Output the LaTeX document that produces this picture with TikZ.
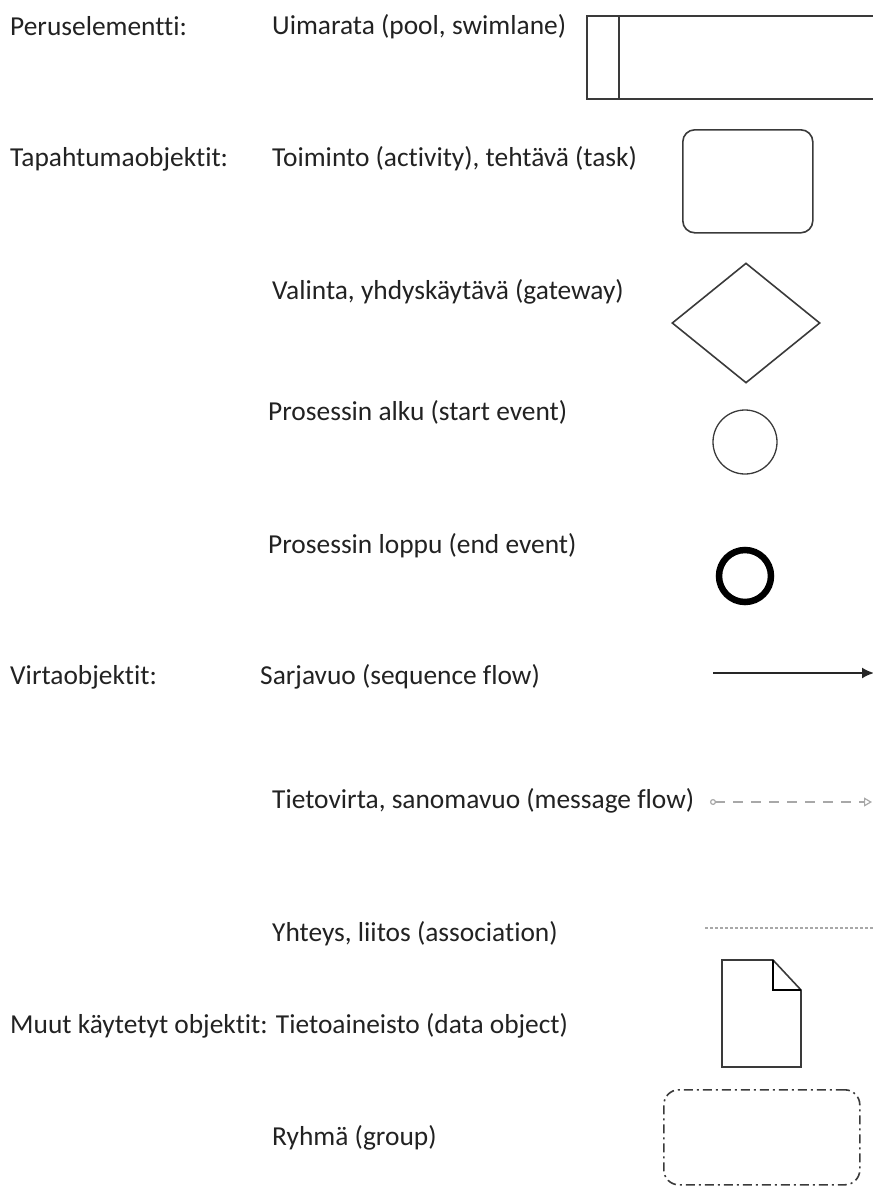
\documentclass[tikz,border=0pt]{standalone}
\usepackage{fontspec}
\setmainfont[Ligatures=NoCommon]{Carlito}
\usetikzlibrary{shapes.geometric,arrows.meta}
\definecolor{ink}{HTML}{222222}
\definecolor{lineink}{HTML}{3A3A3A}
\definecolor{msgink}{HTML}{A8A8A8}
\tikzset{
  lbl/.style={anchor=base west, inner sep=0pt, text=ink, font=\fontsize{27.4}{31}\selectfont},
  shp/.style={draw=lineink, line width=1.6pt},
}
\begin{document}
\begin{tikzpicture}[x=1pt,y=-1pt]
\useasboundingbox (0,0) rectangle (873,1187);

% category headings
\node[lbl] (hbase) at (10,35) {Peruselementti:};
\node[lbl] (hevent) at (10,166) {Tapahtumaobjektit:};
\node[lbl] (hflow) at (10,684) {Virtaobjektit:};
\node[lbl] (hother) at (10,1033) {Muut käytetyt objektit: Tietoaineisto (data object)};

% element names
\node[lbl] (tpool) at (272,34) {Uimarata (pool, swimlane)};
\node[lbl] (ttask) at (272,166) {Toiminto (activity), tehtävä (task)};
\node[lbl] (tgate) at (272,299) {Valinta, yhdyskäytävä (gateway)};
\node[lbl] (tstart) at (268,420) {Prosessin alku (start event)};
\node[lbl] (tend) at (268,553) {Prosessin loppu (end event)};
\node[lbl] (tseq) at (260,684) {Sarjavuo (sequence flow)};
\node[lbl] (tmsg) at (272,808) {Tietovirta, sanomavuo (message flow)};
\node[lbl] (tassoc) at (272,941) {Yhteys, liitos (association)};
\node[lbl] (tgroup) at (272,1145) {Ryhmä (group)};

% pool with its lane header
\node[shp, draw, rectangle, anchor=north west, minimum width=292, minimum height=83, inner sep=0pt] (pool) at (586,15) {};
\draw[shp] ([xshift=33]pool.north west) -- ([xshift=33]pool.south west);

% task
\node[shp, draw, rectangle, rounded corners=12pt, anchor=north west, minimum width=130, minimum height=103, inner sep=0pt] (task) at (682,129) {};

% gateway
\node[shp, draw, diamond, aspect=1.23, minimum width=148, minimum height=120, inner sep=0pt] (gate) at (746,323) {};

% start and end events
\node[draw=lineink, line width=1.3pt, circle, minimum size=64, inner sep=0pt] (start) at (745,442) {};
\node[draw=black, line width=6.5pt, circle, minimum size=52, inner sep=0pt] (endev) at (745,576) {};

% sequence flow
\coordinate (seqa) at (713,673);
\coordinate (seqb) at (874,673);
\draw[draw=black!85, line width=1.8pt, -{Latex[length=12pt,width=11pt]}] (seqa) -- (seqb);

% message flow
\coordinate (msga) at (710,802);
\coordinate (msgb) at (872,802);
\draw[draw=msgink, line width=1.2pt, dash pattern=on 10pt off 8pt,
  {Circle[open,length=6pt,width=6pt,sep=0pt]}-{Triangle[open,length=8pt,width=9pt]}] (msga) -- (msgb);

% association
\coordinate (asa) at (705,928);
\coordinate (asb) at (873,928);
\draw[draw=msgink, line width=1.2pt, dash pattern=on 2.5pt off 2.5pt] (asa) -- (asb);

% data object
\coordinate (doc) at (722,960);
\draw[shp, line join=miter] (doc) -- ++(51,0) -- ++(28,30) -- ++(0,77) -- ++(-79,0) -- cycle;
\draw[draw=black, line width=1.8pt, line join=miter] (773,960) -- (773,990) -- (801,990);

% group
\node[draw=lineink, line width=1.6pt, rectangle, rounded corners=15pt,
  dash pattern=on 9pt off 4pt on 2pt off 4pt, anchor=north west,
  minimum width=196, minimum height=95, inner sep=0pt] (grp) at (663,1089) {};
\end{tikzpicture}
\end{document}
